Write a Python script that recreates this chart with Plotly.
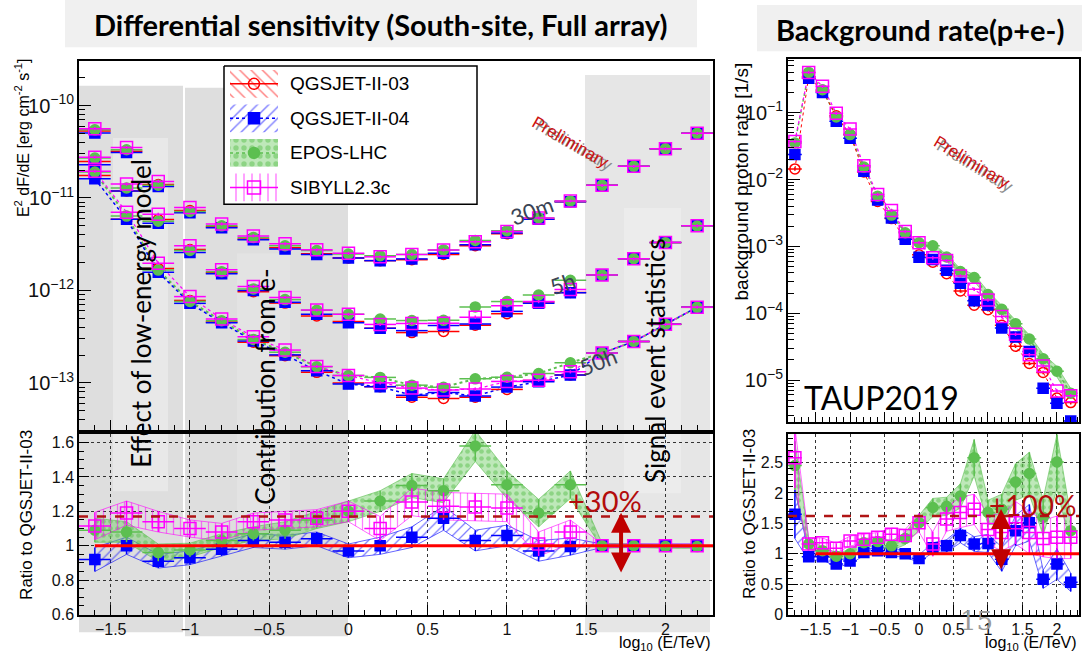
import plotly.graph_objects as go

W, H = 1091, 660
def PX(x): return x / W
def PY(y): return 1 - y / H

# ---------------- data ----------------
xs = [-1.6, -1.4, -1.2, -1.0, -0.8, -0.6, -0.4, -0.2, 0.0, 0.2, 0.4, 0.6, 0.8, 1.0, 1.2, 1.4, 1.6, 1.8, 2.0, 2.2]
xs_bg = [-1.8, -1.6, -1.4, -1.2, -1.0, -0.8, -0.6, -0.4, -0.2, 0.0, 0.2, 0.4, 0.6, 0.8, 1.0, 1.2, 1.4, 1.6, 1.8, 2.0, 2.2]

# differential sensitivity, QGSJET-II-03 reference [erg cm^-2 s^-1]
sens_30m_q03 = [5.3e-11, 3.2e-11, 1.4e-11, 7.3e-12, 4.9e-12, 3.6e-12, 2.9e-12, 2.5e-12, 2.25e-12, 2.1e-12,
                2.15e-12, 2.45e-12, 3.05e-12, 4.1e-12, 5.9e-12, 9.1e-12, 1.37e-11, 2.2e-11, 3.4e-11, 5.0e-11]
sens_5h_q03 = [2.48e-11, 1.19e-11, 5.85e-12, 2.77e-12, 1.55e-12, 9.7e-13, 7.3e-13, 5.3e-13, 4.6e-13, 3.9e-13,
               3.5e-13, 3.6e-13, 4.2e-13, 5.6e-13, 7.5e-13, 9.5e-13, 1.47e-12, 2.2e-12, 3.3e-12, 5.0e-12]
sens_50h_q03 = [1.75e-11, 5.9e-12, 1.73e-12, 7.8e-13, 4.56e-13, 2.76e-13, 1.97e-13, 1.3e-13, 1.0e-13, 9.1e-14,
                7.0e-14, 6.8e-14, 7.0e-14, 8.5e-14, 1.06e-13, 1.22e-13, 2.1e-13, 2.8e-13, 4.3e-13, 6.6e-13]

# model / QGSJET-II-03 for the 30m curve
r30_q04 = [0.95, 0.97, 0.95, 0.95, 0.97, 0.98, 0.97, 0.98, 1.0, 1.0, 1.02, 1.03, 1.02, 1.02, 1.0, 1.0, 1.0, 1.0, 1.0, 1.0]
r30_epos = [1.03, 1.04, 0.98, 0.98, 1.02, 1.04, 1.05, 1.08, 1.1, 1.13, 1.14, 1.12, 1.14, 1.08, 1.03, 1.02, 1.0, 1.0, 1.0, 1.0]
r30_sib = [1.06, 1.1, 1.08, 1.08, 1.07, 1.08, 1.1, 1.1, 1.12, 1.1, 1.14, 1.12, 1.1, 1.06, 1.03, 1.02, 1.0, 1.0, 1.0, 1.0]

# ratio panel (left): model / QGSJET-II-03
ratio_q04 = [0.92, 1.0, 0.91, 0.93, 0.98, 1.03, 1.02, 1.04, 0.97, 1.0, 1.05, 1.16, 1.03, 1.06, 0.97, 0.995, 1.0, 1.0, 1.0, 1.0]
ratio_epos = [1.09, 1.08, 0.96, 0.975, 1.03, 1.07, 1.09, 1.15, 1.2, 1.26, 1.35, 1.32, 1.58, 1.355, 1.19, 1.355, 1.0, 1.0, 0.995, 0.995]
ratio_sib = [1.115, 1.19, 1.14, 1.1, 1.08, 1.14, 1.15, 1.16, 1.2, 1.1, 1.255, 1.23, 1.225, 1.22, 1.01, 1.08, 1.0, 1.0, 1.0, 1.0]
err_q04 = [0.07, 0.05, 0.04, 0.04, 0.04, 0.04, 0.04, 0.04, 0.04, 0.05, 0.06, 0.07, 0.06, 0.06, 0.06, 0.05, 0.01, 0.01, 0.01, 0.01]
err_epos = [0.07, 0.06, 0.05, 0.04, 0.04, 0.04, 0.05, 0.05, 0.06, 0.06, 0.07, 0.07, 0.09, 0.08, 0.08, 0.08, 0.015, 0.01, 0.01, 0.01]
err_sib = [0.08, 0.07, 0.06, 0.05, 0.05, 0.05, 0.05, 0.05, 0.06, 0.07, 0.08, 0.08, 0.08, 0.08, 0.07, 0.07, 0.01, 0.01, 0.01, 0.01]

# background proton rate [1/s], QGSJET-II-03 reference
bg_q03 = [0.0144, 0.345, 0.21, 0.09, 0.047, 0.013, 0.0047, 0.0026, 0.00128, 0.00075, 0.00058,
          0.00039, 0.000215, 0.000132, 0.000113, 0.000066, 0.000032, 0.0000177, 0.000013, 0.0000054, 0.0000046]
ratio_bg_q04 = [1.65, 0.95, 0.95, 0.83, 0.88, 1.02, 1.05, 1.02, 1.0, 0.92, 1.1, 1.13, 1.3, 1.16, 1.17, 0.91, 1.38, 1.51, 0.58, 0.83, 0.53]
ratio_bg_epos = [2.45, 1.16, 1.05, 0.96, 1.0, 1.18, 1.2, 1.13, 1.25, 1.51, 1.76, 1.78, 1.95, 2.58, 1.68, 1.73, 2.18, 2.32, 1.6, 2.51, 1.38]
ratio_bg_sib = [2.58, 1.16, 1.18, 1.09, 1.21, 1.24, 1.27, 1.32, 1.3, 1.51, 1.16, 1.57, 1.68, 1.73, 1.4, 1.35, 1.51, 1.35, 1.25, 1.27, 1.27]
err_bg_q04 = [0.4, 0.06, 0.05, 0.05, 0.05, 0.05, 0.06, 0.06, 0.06, 0.06, 0.08, 0.1, 0.12, 0.12, 0.15, 0.2, 0.25, 0.3, 0.15, 0.25, 0.15]
err_bg_epos = [0.4, 0.08, 0.06, 0.06, 0.06, 0.07, 0.07, 0.08, 0.1, 0.12, 0.15, 0.15, 0.2, 0.3, 0.2, 0.25, 0.3, 0.35, 0.3, 0.45, 0.25]
err_bg_sib = [0.5, 0.1, 0.08, 0.08, 0.08, 0.08, 0.08, 0.1, 0.1, 0.15, 0.2, 0.2, 0.25, 0.25, 0.25, 0.3, 0.35, 0.35, 0.3, 0.35, 0.35]

models = ["QGSJET-II-03", "QGSJET-II-04", "EPOS-LHC", "SIBYLL2.3c"]

# ---------------- styles ----------------
RED, BLUE, GREEN, MAG = "#ff0000", "#0000ff", "#5cbf50", "#ff00ff"
STY = {
    "QGSJET-II-03": dict(sym="circle-open", size=10, color=RED, pat="\\", bg="rgba(0,0,0,0)"),
    "QGSJET-II-04": dict(sym="square", size=10, color=BLUE, pat="/", bg="rgba(0,0,0,0)"),
    "EPOS-LHC": dict(sym="circle", size=10, color=GREEN, pat=".", bg="rgba(110,205,100,0.45)"),
    "SIBYLL2.3c": dict(sym="square-open", size=12, color=MAG, pat="|", bg="rgba(0,0,0,0)"),
}
FONT = "Liberation Sans, Arial, sans-serif"
SLIDE = "Lato, Open Sans, sans-serif"

fig = go.Figure()

def mul(a, b):
    return [u * v for u, v in zip(a, b)]

def points(x, y, m, xa, ya, ey=None, eyp=None):
    s = STY[m]
    if ey is not None:
        erry = dict(type="data", array=ey, color=s["color"], thickness=1.5, width=0)
    else:
        erry = dict(type="percent", value=eyp or 4, color=s["color"], thickness=1.5, width=0)
    fig.add_trace(go.Scatter(
        x=x, y=y, mode="markers", xaxis=xa, yaxis=ya, showlegend=False,
        marker=dict(symbol=s["sym"], size=s["size"], color=s["color"],
                    line=dict(color=s["color"], width=1.5)),
        error_x=dict(type="constant", value=0.1, color=s["color"], thickness=1.5, width=0),
        error_y=erry))

def band(x, lo, hi, m, xa, ya, pat_size=7):
    s = STY[m]
    fig.add_trace(go.Scatter(
        x=list(x) + list(x)[::-1], y=list(hi) + list(lo)[::-1], mode="lines",
        fill="toself", xaxis=xa, yaxis=ya, showlegend=False,
        line=dict(color=s["color"], width=0.6),
        fillcolor=s["bg"],
        fillpattern=dict(shape=s["pat"], fgcolor=s["color"], bgcolor=s["bg"],
                         size=pat_size, solidity=0.18 if s["pat"] != "." else 0.35)))

def dotted(x, y, m, xa, ya, w=1.5):
    fig.add_trace(go.Scatter(x=x, y=y, mode="lines", xaxis=xa, yaxis=ya, showlegend=False,
                             line=dict(color=STY[m]["color"], width=w, dash="dot")))

# ---------------- left main: sensitivity ----------------
curves = [
    (sens_30m_q03, r30_q04, r30_epos, r30_sib),
    (sens_5h_q03, ratio_q04, ratio_epos, ratio_sib),
    (sens_50h_q03, ratio_q04, ratio_epos, ratio_sib),
]
for ci, (base, rq4, rep, rsb) in enumerate(curves):
    vals = {
        "QGSJET-II-03": base,
        "QGSJET-II-04": mul(base, rq4),
        "EPOS-LHC": mul(base, rep),
        "SIBYLL2.3c": mul(base, rsb),
    }
    if ci == 2:
        dotted(xs, vals["EPOS-LHC"], "EPOS-LHC", "x", "y", 2)
        dotted(xs, vals["QGSJET-II-04"], "QGSJET-II-04", "x", "y", 1.5)
        dotted(xs, vals["SIBYLL2.3c"], "SIBYLL2.3c", "x", "y", 1.2)
    for m in models:
        points(xs, vals[m], m, "x", "y", eyp=4)

# ---------------- left ratio ----------------
lr = {"QGSJET-II-04": (ratio_q04, err_q04), "EPOS-LHC": (ratio_epos, err_epos), "SIBYLL2.3c": (ratio_sib, err_sib)}
for m in ["QGSJET-II-04", "EPOS-LHC", "SIBYLL2.3c"]:
    r, e = lr[m]
    band(xs, [a - b for a, b in zip(r, e)], [a + b for a, b in zip(r, e)], m, "x2", "y2")
for m in ["QGSJET-II-04", "EPOS-LHC", "SIBYLL2.3c"]:
    r, e = lr[m]
    points(xs, r, m, "x2", "y2", ey=e)

# ---------------- right main: background rate ----------------
bgv = {
    "QGSJET-II-03": bg_q03,
    "QGSJET-II-04": mul(bg_q03, ratio_bg_q04),
    "EPOS-LHC": mul(bg_q03, ratio_bg_epos),
    "SIBYLL2.3c": mul(bg_q03, ratio_bg_sib),
}
ep_lo = [b * (r - e) for b, r, e in zip(bg_q03, ratio_bg_epos, err_bg_epos)]
ep_hi = [b * (r + e) for b, r, e in zip(bg_q03, ratio_bg_epos, err_bg_epos)]
band(xs_bg[9:], ep_lo[9:], ep_hi[9:], "EPOS-LHC", "x3", "y3", pat_size=5)
dotted(xs_bg, bgv["EPOS-LHC"], "EPOS-LHC", "x3", "y3", 1.5)
dotted(xs_bg, bgv["SIBYLL2.3c"], "SIBYLL2.3c", "x3", "y3", 1.2)
dotted(xs_bg, bgv["QGSJET-II-03"], "QGSJET-II-03", "x3", "y3", 1.0)
for m in models:
    points(xs_bg, bgv[m], m, "x3", "y3", eyp=6)

# ---------------- right ratio ----------------
rr = {"QGSJET-II-04": (ratio_bg_q04, err_bg_q04), "EPOS-LHC": (ratio_bg_epos, err_bg_epos),
      "SIBYLL2.3c": (ratio_bg_sib, err_bg_sib)}
for m in ["QGSJET-II-04", "EPOS-LHC", "SIBYLL2.3c"]:
    r, e = rr[m]
    band(xs_bg, [a - b for a, b in zip(r, e)], [a + b for a, b in zip(r, e)], m, "x4", "y4")
for m in ["QGSJET-II-04", "EPOS-LHC", "SIBYLL2.3c"]:
    r, e = rr[m]
    points(xs_bg, r, m, "x4", "y4", ey=e)

# ---------------- legend (drawn on a pixel overlay axis) ----------------
fig.add_trace(go.Scatter(x=[224, 477, 477, 224, 224], y=[67, 67, 207, 207, 67], mode="lines",
                         fill="toself", fillcolor="white", line=dict(color="black", width=1.5),
                         xaxis="x5", yaxis="y5", showlegend=False))
leg_y = [85, 120, 155, 190]
for m, yc in zip(models, leg_y):
    s = STY[m]
    fig.add_trace(go.Scatter(
        x=[230, 278, 278, 230, 230], y=[yc - 14, yc - 14, yc + 14, yc + 14, yc - 14], mode="lines",
        fill="toself", line=dict(width=0, color=s["color"]), fillcolor=s["bg"],
        fillpattern=dict(shape=s["pat"], fgcolor=s["color"], bgcolor=s["bg"], size=8,
                         solidity=0.18 if s["pat"] != "." else 0.35),
        xaxis="x5", yaxis="y5", showlegend=False))
    fig.add_trace(go.Scatter(
        x=[230, 278], y=[yc, yc], mode="lines", line=dict(color=s["color"], width=1.5,
                                                         dash="dot" if m in ("QGSJET-II-04", "EPOS-LHC") else "solid"),
        xaxis="x5", yaxis="y5", showlegend=False))
    fig.add_trace(go.Scatter(
        x=[254], y=[yc], mode="markers",
        marker=dict(symbol=s["sym"], size=s["size"] + 1, color=s["color"], line=dict(color=s["color"], width=1.5)),
        xaxis="x5", yaxis="y5", showlegend=False))

# ---------------- axes ----------------
ax_common = dict(showline=True, linecolor="black", linewidth=1.5, mirror=True, ticks="inside",
                 tickcolor="black", tickfont=dict(family=FONT, size=16, color="#111"),
                 zeroline=False, showgrid=False)
xl = [PX(79), PX(713)]
xr = [PX(788), PX(1079)]
ytop_l = [PY(436), PY(62)]
ytop_r = [PY(428), PY(60)]
yrat = [PY(623), PY(440)]

fig.update_layout(
    xaxis=dict(ax_common, domain=xl, range=[-1.7, 2.3], dtick=0.5, tick0=0, ticklen=10,
               showticklabels=False, anchor="y",
               minor=dict(dtick=0.1, ticklen=5, ticks="inside", tickcolor="black")),
    yaxis=dict(ax_common, domain=ytop_l, type="log", range=[-13.51, -9.52], dtick=1,
               exponentformat="power", ticklen=12, anchor="x",
               minor=dict(dtick="D1", ticklen=6, ticks="inside", tickcolor="black")),
    xaxis2=dict(ax_common, domain=xl, range=[-1.7, 2.3], dtick=0.5, tick0=0, ticklen=10, anchor="y2",
                showgrid=True, gridcolor="#333", griddash="dot", gridwidth=1,
                minor=dict(dtick=0.1, ticklen=5, ticks="inside", tickcolor="black")),
    yaxis2=dict(ax_common, domain=yrat, range=[0.6, 1.65], dtick=0.2, tick0=0.6, ticklen=10, anchor="x2",
                showgrid=True, gridcolor="#333", griddash="dot", gridwidth=1,
                minor=dict(dtick=0.05, ticklen=5, ticks="inside", tickcolor="black")),
    xaxis3=dict(ax_common, domain=xr, range=[-1.9, 2.32], dtick=0.5, tick0=0, ticklen=10,
                showticklabels=False, anchor="y3",
                minor=dict(dtick=0.1, ticklen=5, ticks="inside", tickcolor="black")),
    yaxis3=dict(ax_common, domain=ytop_r, type="log", range=[-5.63, -0.2], dtick=1,
                exponentformat="power", ticklen=12, anchor="x3",
                minor=dict(dtick="D1", ticklen=6, ticks="inside", tickcolor="black")),
    xaxis4=dict(ax_common, domain=xr, range=[-1.9, 2.32], dtick=0.5, tick0=0, ticklen=10, anchor="y4",
                showgrid=True, gridcolor="#333", griddash="dot", gridwidth=1,
                minor=dict(dtick=0.1, ticklen=5, ticks="inside", tickcolor="black")),
    yaxis4=dict(ax_common, domain=yrat, range=[0, 2.97], dtick=0.5, tick0=0, ticklen=10, anchor="x4",
                showgrid=True, gridcolor="#333", griddash="dot", gridwidth=1,
                minor=dict(dtick=0.1, ticklen=5, ticks="inside", tickcolor="black")),
    xaxis5=dict(domain=[0, 1], range=[0, W], visible=False, anchor="y5", fixedrange=True),
    yaxis5=dict(domain=[0, 1], range=[H, 0], visible=False, anchor="x5", fixedrange=True),
)

# ---------------- shapes ----------------
shapes = []
def prect(x0, y0, x1, y1, color, layer="below"):
    shapes.append(dict(type="rect", xref="paper", yref="paper", x0=PX(x0), x1=PX(x1), y0=PY(y1), y1=PY(y0),
                       fillcolor=color, line=dict(width=0), layer=layer))

prect(65, 0, 697, 48, "#f0f0f0")
prect(757, 5, 1082, 52, "#f0f0f0")
prect(79, 87, 183, 641, "#dedede")
prect(185, 89, 348, 645, "#dedede")
prect(113, 140, 168, 498, "#e8e8e8")
prect(237, 257, 290, 530, "#e3e3e3")
prect(585, 76, 710, 641, "#e6e6e6")
prect(624, 211, 681, 500, "#ececec")

# reference lines in ratio panels
shapes.append(dict(type="line", xref="x2", yref="y2", x0=-1.6, x1=2.3, y0=1.0, y1=1.0,
                   line=dict(color=RED, width=3), layer="above"))
shapes.append(dict(type="line", xref="x2", yref="y2", x0=-1.7, x1=2.3, y0=1.17, y1=1.17,
                   line=dict(color="#b01515", width=2.5, dash="dash"), layer="above"))
shapes.append(dict(type="line", xref="x4", yref="y4", x0=-1.5, x1=2.32, y0=1.0, y1=1.0,
                   line=dict(color=RED, width=3), layer="above"))
shapes.append(dict(type="line", xref="x4", yref="y4", x0=-1.9, x1=2.32, y0=1.62, y1=1.62,
                   line=dict(color="#b01515", width=2.5, dash="dash"), layer="above"))
fig.update_layout(shapes=shapes)

# ---------------- annotations ----------------
anns = []
def ann(x, y, text, size, color="black", family=SLIDE, angle=0, xanchor="center", yanchor="middle"):
    anns.append(dict(x=PX(x), y=PY(y), xref="paper", yref="paper", text=text, showarrow=False,
                     textangle=angle, xanchor=xanchor, yanchor=yanchor,
                     font=dict(family=family, size=size, color=color)))

ann(380, 25, "<b>Differential sensitivity (South-site, Full array)</b>", 29)
ann(920, 30, "<b>Background rate(p+e-)</b>", 29)

ann(22, 140, "E<sup>2</sup> dF/dE [erg cm<sup>-2</sup> s<sup>-1</sup>]", 16, family=FONT, angle=-90)
ann(27, 522, "Ratio to QGSJET-II-03", 17, family=FONT, angle=-90)
ann(741, 184, "background proton rate [1/s]", 19, family=FONT, angle=-90)
ann(750, 521, "Ratio to QGSJET-II-03", 17, family=FONT, angle=-90)
ann(713, 652, "log<sub>10</sub> (E/TeV)", 16, family=FONT, xanchor="right")
ann(1079, 652, "log<sub>10</sub> (E/TeV)", 16, family=FONT, xanchor="right")

for m, yc in zip(models, leg_y):
    ann(288, yc, m, 19, family=FONT, xanchor="left")

ann(574, 148, "Preliminary", 17, color="#8c8c8c", family=FONT, angle=30)
ann(571, 144, "Preliminary", 17, color="#cc1111", family=FONT, angle=30)
ann(975, 169, "Preliminary", 17, color="#8c8c8c", family=FONT, angle=31)
ann(972, 165, "Preliminary", 17, color="#cc1111", family=FONT, angle=31)

ann(532, 213, "30m", 22, color="#3a4454", angle=-20)
ann(562, 287, "5h", 22, color="#3a4454", angle=-20)
ann(598, 366, "50h", 22, color="#3a4454", angle=-22)

ann(141, 318, "Effect of low-energy model", 26, angle=-90)
ann(265, 392, "Contribution from e-", 26, angle=-90)
ann(655, 366, "Signal event statistics", 26, angle=-90)

ann(605, 507, "+30%", 29, color="#b30c0c")
ann(1032, 512, "+100%", 28, color="#b30c0c")
ann(881, 403, "TAUP2019", 32)
ann(976, 630, "15", 26, color="#9a9a9a", family="DejaVu Serif, Liberation Serif, serif")

# double arrows
for xa, ya, xv, y0, y1 in [("x2", "y2", 1.72, 1.2, 0.845), ("x4", "y4", 1.19, 1.76, 0.745)]:
    anns.append(dict(x=xv, y=y1, ax=xv, ay=y0, xref=xa, yref=ya, axref=xa, ayref=ya, text="",
                     showarrow=True, arrowhead=2, arrowsize=1, arrowwidth=4, arrowside="end+start",
                     arrowcolor="#c00000"))

fig.update_layout(annotations=anns)

fig.update_layout(width=W, height=H, margin=dict(l=0, r=0, t=0, b=0),
                  paper_bgcolor="white", plot_bgcolor="rgba(0,0,0,0)", showlegend=False)

fig.write_html("out.html")
